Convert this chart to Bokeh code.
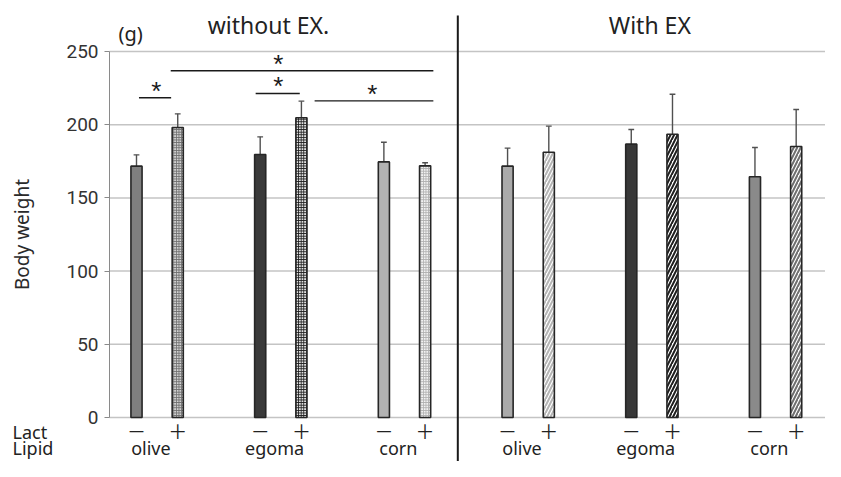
from bokeh.plotting import figure
from bokeh.models import Range1d, FixedTicker
from bokeh.core.properties import value
from bokeh.embed import file_html
from bokeh.resources import INLINE

# ---------------- data ----------------
lipids = ["olive", "egoma", "corn"]
lact_signs = ["－", "＋"]
row_captions = ["Lact", "Lipid"]
conditions = ["without EX.", "With EX"]
y_ticks = [0, 50, 100, 150, 200, 250]

bw_without = [171.7, 198.1, 179.6, 204.7, 174.6, 171.9]
sd_without = [7.7, 9.3, 12.1, 11.4, 13.4, 2.1]
bw_with = [171.7, 181.2, 186.7, 193.5, 164.4, 185.1]
sd_with = [12.3, 17.8, 10.0, 27.3, 20.0, 25.3]

# significance brackets (x in bar-slot units, y in g)
sig_x0 = [0.06, 0.83, 2.89, 4.32]
sig_x1 = [0.84, 7.20, 3.96, 7.20]
sig_y = [218.4, 236.8, 221.3, 216.3]
sig_star_x = [0.48, 3.44, 3.44, 5.72]

# ---------------- styles ----------------
fills = ["#7f7f7f", "#d0d0d0", "#3a3a3a", "#e0e0e0", "#b2b2b2", "#f2f2f2",
         "#aaaaaa", "#ffffff", "#383838", "#ffffff", "#8a8a8a", "#ffffff"]
hatches = ["", "+", "", "+", "", "+",
           "", "/", "", "/", "", "/"]
hatch_cols = ["#7f7f7f", "#6e6e6e", "#3a3a3a", "#1e1e1e", "#b2b2b2", "#b0b0b0",
              "#aaaaaa", "#b4b4b4", "#383838", "#1e1e1e", "#8a8a8a", "#6e6e6e"]

values = bw_without + bw_with
sds = sd_without + sd_with
xs = [(i // 2) * 3 + i % 2 for i in range(len(values))]
tops = [v + s for v, s in zip(values, sds)]

PX = 41.23   # pixels per slot
PY = 1.464   # pixels per gram
X0 = 136     # pixel of slot 0
Y0 = 417     # pixel of 0 g


def ybase(px_baseline, fs):
    """data y for a text whose visible baseline should sit at a pixel row"""
    return (Y0 - (px_baseline - 0.36 * fs)) / PY


x_left = (0 - X0) / PX
x_axis_pos = (109 - X0) / PX
x_right = (825 - X0) / PX

p = figure(width=825, height=461,
           x_range=Range1d(x_left, x_right), y_range=Range1d(-(461 - Y0) / PY, Y0 / PY),
           output_backend="svg", toolbar_location=None, x_axis_location=None,
           min_border_left=0, min_border_right=0, min_border_top=0,
           min_border_bottom=0)
p.outline_line_color = None
p.background_fill_color = "white"
p.border_fill_color = "white"
p.xgrid.visible = False
p.ygrid.visible = False

# horizontal grid lines at tick values, starting at the axis
p.segment(x0=[x_axis_pos] * len(y_ticks), y0=y_ticks, x1=[x_right] * len(y_ticks), y1=y_ticks,
          line_color="#c4c4c4", line_width=1.5, level="underlay")

ax = p.yaxis[0]
ax.fixed_location = x_axis_pos
ax.ticker = FixedTicker(ticks=y_ticks)
ax.bounds = (0, 250)
ax.axis_line_color = "#8a8a8a"
ax.major_tick_line_color = "#8a8a8a"
ax.major_tick_out = 5
ax.major_tick_in = 0
ax.minor_tick_line_color = None
ax.major_label_text_font = "Roboto"
ax.major_label_text_font_size = "19px"
ax.major_label_text_color = "#333333"
ax.major_label_standoff = 6
ax.axis_label = "Body weight"
ax.axis_label_text_font = "Noto Sans"
ax.axis_label_text_font_style = "normal"
ax.axis_label_text_font_size = "19px"
ax.axis_label_text_color = "#2a2a2a"
ax.axis_label_standoff = 28

# error bars
p.segment(x0=xs, y0=values, x1=xs, y1=tops, line_color="#505050", line_width=1.4)
p.segment(x0=[x - 0.07 for x in xs], y0=tops, x1=[x + 0.07 for x in xs], y1=tops,
          line_color="#505050", line_width=1.4)

# bars
for i in range(len(values)):
    kw = {}
    if hatches[i]:
        kw = dict(hatch_pattern=hatches[i], hatch_color=hatch_cols[i],
                  hatch_scale=2.6 if hatches[i] == "+" else 7,
                  hatch_weight=1.0 if hatches[i] == "+" else 2.0)
    p.vbar(x=[xs[i]], top=[values[i]], bottom=0, width=0.27,
           fill_color=fills[i], line_color="#262626", line_width=1.6, **kw)

# significance brackets
p.segment(x0=sig_x0, y0=sig_y, x1=sig_x1, y1=sig_y, line_color="#1a1a1a", line_width=1.4)
p.text(x=sig_star_x, y=[y + 4.8 for y in sig_y], text=["*"] * len(sig_y),
       text_font=value("Liberation Sans"), text_font_size="26px",
       text_align="center", text_baseline="alphabetic", text_color="#1a1a1a")

# separator
p.segment(x0=[7.793], y0=[274.6], x1=[7.793], y1=[-34.8], line_color="#1a1a1a", line_width=2)

# titles
p.text(x=[3.2, 12.45], y=[ybase(33, 23)] * 2, text=conditions,
       text_font=value("Noto Sans"), text_font_size="23px",
       text_align="center", text_baseline="alphabetic", text_color="#222222")
p.text(x=[(118 - X0) / PX], y=[ybase(40, 20)], text=["(g)"],
       text_font=value("Noto Sans"), text_font_size="20px",
       text_align="left", text_baseline="alphabetic", text_color="#222222")

# Lact signs under bars
p.text(x=xs, y=[(Y0 - 430) / PY] * len(xs), text=[lact_signs[i % 2] for i in range(len(xs))],
       text_font=value("Noto Sans CJK JP"), text_font_size="19px",
       text_align="center", text_baseline="middle", text_color="#222222")

# Lipid names
lip_x = [g * 3 + 0.5 - 0.15 for g in range(6)]
p.text(x=lip_x, y=[ybase(454, 18)] * 6, text=lipids * 2,
       text_font=value("Noto Sans"), text_font_size="18px",
       text_align="center", text_baseline="alphabetic", text_color="#222222")

# row captions left of axis
x_cap = (12 - X0) / PX
p.text(x=[x_cap, x_cap], y=[ybase(438, 18), ybase(454, 18)], text=row_captions,
       text_font=value("Noto Sans"), text_font_size="18px",
       text_align="left", text_baseline="alphabetic", text_color="#222222")

open("out.html", "w").write(file_html(p, INLINE))
